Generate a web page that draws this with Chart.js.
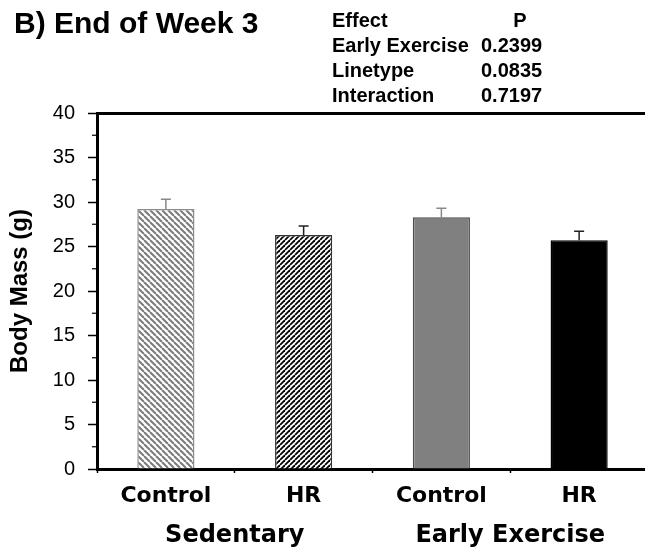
<!DOCTYPE html>
<html>
<head>
<meta charset="utf-8">
<title>End of Week 3</title>
<script src="https://cdn.jsdelivr.net/npm/chart.js@4.4.1/dist/chart.umd.min.js"></script>
<style>
  html, body { margin: 0; padding: 0; background: #fff; overflow: hidden; }
  #wrap { width: 660px; height: 549px; }
</style>
</head>
<body>
<div id="wrap"><canvas id="bodyMass" width="660" height="549"></canvas></div>
<script>
// values (g, mean + SEM)
var categories = ["Control", "HR", "Control", "HR"];
var groups = ["Sedentary", "Early Exercise"];
var bodyMass = [29.2, 26.3, 28.3, 25.7];
var sem = [1.1, 1.0, 1.0, 1.0];
var yTicks = [0, 5, 10, 15, 20, 25, 30, 35, 40];
var effects = ["Early Exercise", "Linetype", "Interaction"];
var pValues = [0.2399, 0.0835, 0.7197];

var ARIAL = "'Liberation Sans', Arial, sans-serif";
var VERDANA = "'DejaVu Sans', Verdana, sans-serif";

Chart.defaults.font.family = ARIAL;
Chart.defaults.color = "#000";

function stripes(size, color, width, forward) {
    var c = document.createElement("canvas");
    c.width = size;
    c.height = size;
    var g = c.getContext("2d");
    g.fillStyle = "#fff";
    g.fillRect(0, 0, size, size);
    g.strokeStyle = color;
    g.lineWidth = width;
    for (var k = -size; k <= size; k += size) {
        g.beginPath();
        if (forward) {
            g.moveTo(k, size);
            g.lineTo(k + size, 0);
        } else {
            g.moveTo(k, 0);
            g.lineTo(k + size, size);
        }
        g.stroke();
    }
    return g.createPattern(c, "repeat");
}

var fills = [stripes(6, "#7a7a7a", 2, false), stripes(5, "#000", 1.8, true), "#808080", "#000"];
var borders = ["#8c8c8c", "#333", "#4d4d4d", "#000"];
var errColors = ["#888", "#222", "#888", "#222"];

/********************************** extras: error bars, minor ticks, texts *****************************************/
var extras = {
    id: "extras",
    afterDatasetsDraw: function (chart) {
        var ctx = chart.ctx;
        var y = chart.scales.y;
        var bars = chart.getDatasetMeta(0).data;
        ctx.save();
        ctx.lineWidth = 1.5;
        bars.forEach(function (bar, i) {
            var top = y.getPixelForValue(bodyMass[i] + sem[i]);
            ctx.strokeStyle = errColors[i];
            ctx.beginPath();
            ctx.moveTo(bar.x, bar.y);
            ctx.lineTo(bar.x, top);
            ctx.moveTo(bar.x - 5, top);
            ctx.lineTo(bar.x + 5, top);
            ctx.stroke();
        });
        ctx.restore();
    },
    afterDraw: function (chart) {
        var ctx = chart.ctx;
        var x = chart.scales.x;
        var y = chart.scales.y;
        var area = chart.chartArea;
        ctx.save();

        // minor ticks on the y axis
        ctx.strokeStyle = "#000";
        ctx.lineWidth = 1.2;
        for (var i = 0; i < yTicks.length - 1; i++) {
            var py = y.getPixelForValue((yTicks[i] + yTicks[i + 1]) / 2);
            ctx.beginPath();
            ctx.moveTo(area.left - 5, py);
            ctx.lineTo(area.left, py);
            ctx.stroke();
        }

        // group names under the category labels
        ctx.fillStyle = "#000";
        ctx.font = "bold 24px " + VERDANA;
        ctx.textAlign = "center";
        ctx.textBaseline = "alphabetic";
        groups.forEach(function (name, g) {
            var cx = (x.getPixelForValue(2 * g) + x.getPixelForValue(2 * g + 1)) / 2;
            ctx.fillText(name, cx, 542);
        });

        // panel title
        ctx.textAlign = "left";
        ctx.font = "bold 30px " + ARIAL;
        ctx.fillText("B) End of Week 3", 14, 33);

        // table of effects
        ctx.font = "bold 20px " + ARIAL;
        ctx.fillText("Effect", 332, 27);
        ctx.textAlign = "center";
        ctx.fillText("P", 520, 27);
        effects.forEach(function (name, r) {
            ctx.textAlign = "left";
            ctx.fillText(name, 332, 52 + r * 25);
            ctx.fillText(pValues[r].toFixed(4), 481, 52 + r * 25);
        });
        ctx.restore();
    }
};

new Chart(document.getElementById("bodyMass"), {
    type: "bar",
    data: {
        labels: categories,
        datasets: [
            {
                label: "Body Mass (g)",
                data: bodyMass,
                backgroundColor: fills,
                borderColor: borders,
                borderWidth: 1.5,
                categoryPercentage: 1,
                barPercentage: 0.415
            }
        ]
    },
    options: {
        responsive: false,
        animation: false,
        layout: { padding: { top: 113, right: 12, left: 0, bottom: 0 } },
        plugins: {
            legend: { display: false },
            tooltip: { enabled: false }
        },
        scales: {
            x: {
                grid: { offset: true, drawOnChartArea: false, tickLength: 4, tickColor: "#000", tickWidth: 1.5 },
                border: { width: 3, color: "#000" },
                ticks: { font: { family: VERDANA, size: 22, weight: "bold" }, color: "#000", padding: 10 },
                afterFit: function (s) { s.height = 80; }
            },
            x2: {
                type: "category",
                position: "top",
                grid: { display: false },
                ticks: { display: false },
                border: { width: 3, color: "#000" },
                afterFit: function (s) { s.height = 0; }
            },
            y: {
                min: 0,
                max: 40,
                afterBuildTicks: function (s) {
                    s.ticks = yTicks.map(function (v) { return { value: v }; });
                },
                grid: { drawOnChartArea: false, tickLength: 9, tickColor: "#000", tickWidth: 1.5 },
                border: { width: 3, color: "#000" },
                ticks: { font: { size: 20 }, color: "#000", padding: 13 },
                title: {
                    display: true,
                    text: "Body Mass (g)",
                    font: { size: 24, weight: "bold" },
                    color: "#000",
                    padding: { top: 6, bottom: 0 }
                },
                afterFit: function (s) { s.width = 97; }
            }
        }
    },
    plugins: [extras]
});
</script>
</body>
</html>
